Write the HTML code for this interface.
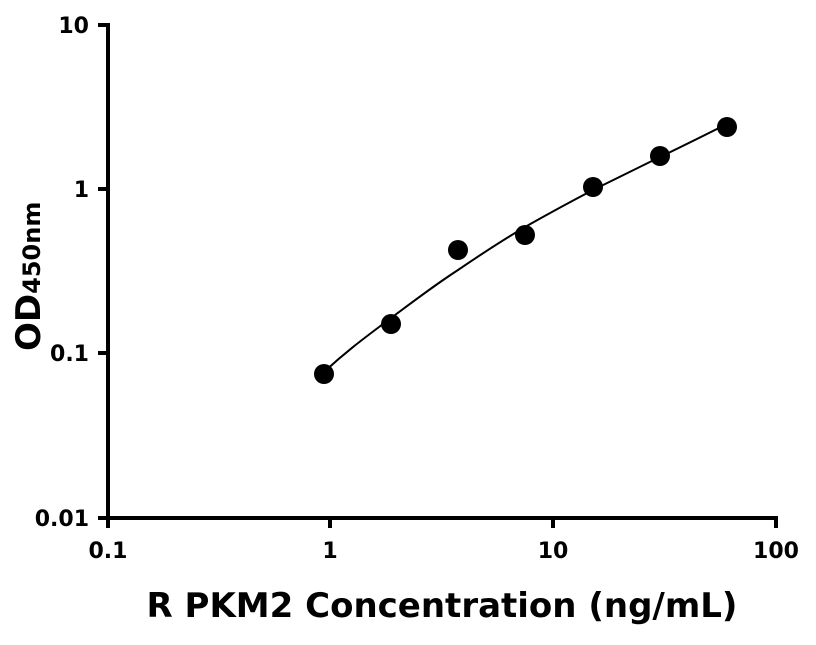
<!DOCTYPE html>
<html><head><style>body{margin:0;background:#fff}</style></head><body>
<svg width="816" height="640" xmlns="http://www.w3.org/2000/svg" font-family="DejaVu Sans, sans-serif" font-weight="bold">
<rect width="816" height="640" fill="#fff"/>
<g stroke="#000" stroke-width="4" fill="none">
<line x1="108" y1="23" x2="108" y2="520"/>
<line x1="106" y1="518" x2="778" y2="518"/>
<line x1="98" y1="25" x2="108" y2="25"/>
<line x1="98" y1="189" x2="108" y2="189"/>
<line x1="98" y1="353" x2="108" y2="353"/>
<line x1="98" y1="518" x2="108" y2="518"/>
<line x1="108" y1="518" x2="108" y2="528"/>
<line x1="330" y1="518" x2="330" y2="528"/>
<line x1="553" y1="518" x2="553" y2="528"/>
<line x1="776" y1="518" x2="776" y2="528"/>
</g>
<g font-size="22" text-anchor="end">
<text x="89" y="33">10</text>
<text x="89" y="197">1</text>
<text x="89" y="361">0.1</text>
<text x="89" y="526">0.01</text>
</g>
<g font-size="22" text-anchor="middle">
<text x="108" y="558">0.1</text>
<text x="330" y="558">1</text>
<text x="553" y="558">10</text>
<text x="776" y="558">100</text>
</g>
<text x="442" y="617" font-size="34" text-anchor="middle">R PKM2 Concentration (ng/mL)</text>
<text transform="translate(40,351) rotate(-90)" font-size="34">OD<tspan font-size="24">450nm</tspan></text>
<path d="M324,372 C350,348 370,334 391,318 C415,300 435,285 458,270 C480,255 503,240 525,227 C548,214 570,202 593,190 C615,179 638,168 660,157 C683,146 705,135 727,124" stroke="#000" stroke-width="2" fill="none"/>
<g fill="#000">
<circle cx="324" cy="374" r="10"/>
<circle cx="391" cy="324" r="10"/>
<circle cx="458" cy="250" r="10"/>
<circle cx="525" cy="235" r="10"/>
<circle cx="593" cy="187" r="10"/>
<circle cx="660" cy="156" r="10"/>
<circle cx="727" cy="127" r="10"/>
</g>
</svg>
</body></html>
